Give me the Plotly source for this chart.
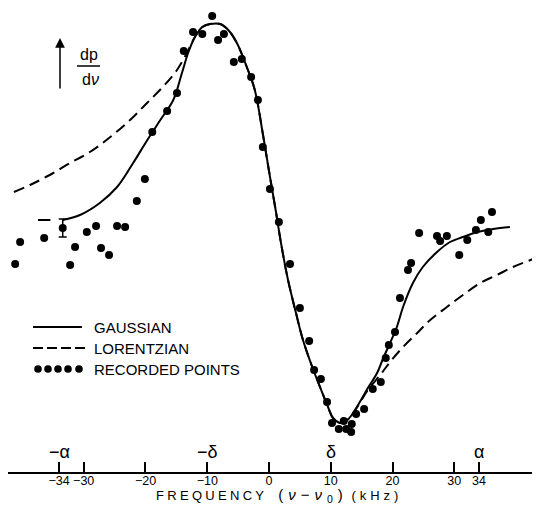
import plotly.graph_objects as go

# ---------------- data (frequency offset in kHz, dp/dnu in arbitrary units) -------------
pts_freq = [-41.1, -40.3, -36.4, -32.2, -31.4, -29.5, -28.0, -27.2, -25.9, -24.6,
            -23.3, -21.4, -20.1, -18.9, -16.5, -14.9, -13.8, -12.3, -10.8, -9.2,
            -8.25, -7.3, -5.7, -4.4, -2.9, -1.8, -1.0, 0.15, 1.6, 3.4,
            5.0, 6.5, 7.3, 8.4, 9.4, 10.2, 11.3, 12.1, 12.5, 13.3,
            13.4, 14.1, 15.4, 16.8, 18.1, 18.9, 19.4, 20.4, 21.2, 22.5,
            23.0, 24.3, 27.2, 27.7, 28.8, 30.8, 32.1, 33.5, 34.3, 35.5, 36.1]
pts_dpdv = [-0.195, -0.085, -0.065, -0.2, -0.11, -0.035, -0.005, -0.115, -0.15, -0.005,
            -0.01, 0.12, 0.23, 0.465, 0.57, 0.66, 0.87, 0.965, 0.955, 1.045,
            0.925, 0.955, 0.815, 0.83, 0.74, 0.625, 0.39, 0.18, 0.015, -0.195,
            -0.415, -0.58, -0.725, -0.77, -0.885, -0.99, -1.02, -0.98, -1.02, -1.035,
            -0.995, -0.945, -0.92, -0.82, -0.785, -0.665, -0.6, -0.535, -0.365, -0.225,
            -0.19, -0.04, -0.055, -0.08, -0.055, -0.15, -0.075, -0.025, 0.025, -0.035, 0.065]

err_freq = [-33.4]
err_dpdv = [-0.015]
err_half = [0.045]

gauss_freq = [-33.4, -30.6, -27.4, -24.6, -22.0, -19.7, -17.6, -15.5, -14.1, -13.1,
              -12.0, -10.8, -9.55, -7.9, -6.6, -5.2, -3.6, -2.3, -0.97, 0.16,
              1.13, 1.94, 3.08, 4.37, 5.5, 7.0, 8.26, 9.55, 10.36, 11.5,
              12.3, 13.4, 14.7, 16.0, 17.5, 18.5, 19.6, 20.7, 21.7, 23.3,
              24.9, 27.2, 29.3, 31.4, 33.7, 36.3, 39.0]
gauss_dpdv = [0.025, 0.05, 0.11, 0.19, 0.31, 0.425, 0.525, 0.625, 0.76, 0.86,
              0.94, 0.99, 1.005, 1.005, 0.975, 0.91, 0.79, 0.675, 0.45, 0.24,
              0.065, -0.09, -0.275, -0.44, -0.575, -0.71, -0.81, -0.91, -0.965, -0.99,
              -0.985, -0.95, -0.885, -0.815, -0.74, -0.665, -0.59, -0.51, -0.41, -0.29,
              -0.21, -0.135, -0.085, -0.06, -0.035, -0.02, -0.01]

gauss_ext_freq = [-37.4, -35.4]
gauss_ext_dpdv = [0.025, 0.025]

lor_freq = [-41.3, -38.7, -35.5, -32.2, -29.0, -25.7, -22.5, -19.75, -17.2, -14.9,
            -13.3, -12.0, -10.8, -9.55, -7.9, -6.6, -5.2, -3.6, -2.3, -0.97,
            0.16, 1.13, 1.94, 3.08, 4.37, 5.5, 7.0, 8.26, 9.55, 10.36,
            11.5, 12.3, 13.4, 14.7, 16.0, 18.0, 19.6, 21.7, 24.0, 26.1,
            28.8, 31.4, 34.2, 36.9, 39.5, 43.2]
lor_dpdv = [0.165, 0.2, 0.25, 0.31, 0.365, 0.44, 0.525, 0.61, 0.69, 0.775,
            0.86, 0.94, 0.99, 1.005, 1.005, 0.975, 0.91, 0.79, 0.675, 0.45,
            0.24, 0.065, -0.09, -0.275, -0.44, -0.575, -0.71, -0.81, -0.91, -0.965,
            -0.99, -0.985, -0.95, -0.89, -0.825, -0.75, -0.685, -0.61, -0.54, -0.475,
            -0.41, -0.35, -0.29, -0.25, -0.21, -0.165]

tick_vals = [-34, -30, -20, -10, 0, 10, 20, 30, 34]
tick_text = ["−34", "−30", "−20", "−10", "0", "10", "20", "30", "34"]
top_pos = [-34, -10, 10, 34]
top_labels = ["−α", "−δ", "δ", "α"]
legend_labels = ["GAUSSIAN", "LORENTZIAN", "RECORDED POINTS"]

# ---------------- layout geometry ----------------
W, H = 536, 510
ML, MR, MT, MB = 8, 4, 0, 38
PW, PH = W - ML - MR, H - MT - MB
FONT = "Liberation Sans, Arial, sans-serif"


def pxx(x):
    return (x - ML) / PW


def pxy(y):
    return (PH - (y - MT)) / PH


fig = go.Figure()

fig.add_trace(go.Scatter(x=lor_freq, y=lor_dpdv, mode="lines", line_shape="spline",
                         line=dict(color="black", width=2, dash="11px,6px"),
                         showlegend=False, hoverinfo="skip"))
fig.add_trace(go.Scatter(x=gauss_ext_freq, y=gauss_ext_dpdv, mode="lines",
                         line=dict(color="black", width=2),
                         showlegend=False, hoverinfo="skip"))
fig.add_trace(go.Scatter(x=gauss_freq, y=gauss_dpdv, mode="lines", line_shape="spline",
                         line=dict(color="black", width=2),
                         showlegend=False, hoverinfo="skip"))
fig.add_trace(go.Scatter(x=pts_freq, y=pts_dpdv, mode="markers",
                         marker=dict(color="black", size=8),
                         showlegend=False))
fig.add_trace(go.Scatter(x=err_freq, y=err_dpdv, mode="markers",
                         marker=dict(color="black", size=8),
                         error_y=dict(type="data", array=err_half, color="black",
                                      thickness=1.5, width=4),
                         showlegend=False))

fig.update_xaxes(range=[-42.26, 42.58], tickvals=tick_vals, ticktext=tick_text,
                 ticks="inside", ticklen=10, tickwidth=1.5, tickcolor="black",
                 showline=True, linecolor="black", linewidth=1.5,
                 showgrid=False, zeroline=False, automargin=False,
                 ticklabelstandoff=-4,
                 tickfont=dict(family=FONT, size=12.5, color="black"))
fig.update_yaxes(range=[-1.235, 1.125], visible=False, showgrid=False, zeroline=False,
                 automargin=False)

ann = []
for p, t in zip(top_pos, top_labels):
    ann.append(dict(x=p, xref="x", y=0, yref="paper", yshift=20, yanchor="middle",
                    xanchor="center", text=t, showarrow=False,
                    font=dict(family=FONT, size=18, color="black")))
ann.append(dict(x=pxx(278.5), xref="paper", y=0, yref="paper", yshift=-23, yanchor="middle",
                xanchor="center", showarrow=False,
                text='<span style="letter-spacing:3.3px">FREQUENCY</span>&nbsp;&nbsp;&nbsp;'
                     '<span style="font-size:15px;letter-spacing:5px">(<i>ν</i>−<i>ν</i><sub>0</sub>)</span>'
                     ' <span style="letter-spacing:4px">(kHz)</span>',
                font=dict(family=FONT, size=13, color="black")))
for yy, t in zip([327, 348, 369], legend_labels):
    ann.append(dict(x=pxx(92), xref="paper", y=pxy(yy), yref="paper", xanchor="left",
                    yanchor="middle", text=t, showarrow=False,
                    font=dict(family=FONT, size=15, color="black")))
ann.append(dict(x=pxx(89), xref="paper", y=pxy(54), yref="paper", xanchor="center",
                yanchor="middle", text="dp", showarrow=False,
                font=dict(family=FONT, size=16, color="black")))
ann.append(dict(x=pxx(90), xref="paper", y=pxy(79), yref="paper", xanchor="center",
                yanchor="middle", text="d<i>ν</i>", showarrow=False,
                font=dict(family=FONT, size=16, color="black")))
ann.append(dict(x=pxx(60), xref="paper", y=pxy(38), yref="paper", ax=0, ay=52,
                axref="pixel", ayref="pixel", text="", showarrow=True,
                arrowhead=2, arrowsize=1.3, arrowwidth=1.5, arrowcolor="black"))

shapes = []
shapes.append(dict(type="line", xref="paper", yref="paper", x0=pxx(77), x1=pxx(100),
                   y0=pxy(66), y1=pxy(66), line=dict(color="black", width=1.5)))
shapes.append(dict(type="line", xref="paper", yref="paper", x0=pxx(33), x1=pxx(82),
                   y0=pxy(327), y1=pxy(327), line=dict(color="black", width=2)))
shapes.append(dict(type="line", xref="paper", yref="paper", x0=pxx(33), x1=pxx(89),
                   y0=pxy(348), y1=pxy(348), line=dict(color="black", width=2, dash="10px,4px")))
for cx in [38, 48, 58, 68, 79]:
    shapes.append(dict(type="circle", xref="paper", yref="paper",
                       x0=pxx(cx - 3.8), x1=pxx(cx + 3.8), y0=pxy(369 + 3.8), y1=pxy(369 - 3.8),
                       fillcolor="black", line=dict(color="black", width=0)))

fig.update_layout(width=W, height=H, margin=dict(l=ML, r=MR, t=MT, b=MB),
                  paper_bgcolor="white", plot_bgcolor="white",
                  annotations=ann, shapes=shapes, showlegend=False,
                  font=dict(family=FONT, color="black"))

fig.write_html("out.html", config={"displayModeBar": False},
               post_script="document.body.style.margin='0px';document.body.style.padding='0px';")
